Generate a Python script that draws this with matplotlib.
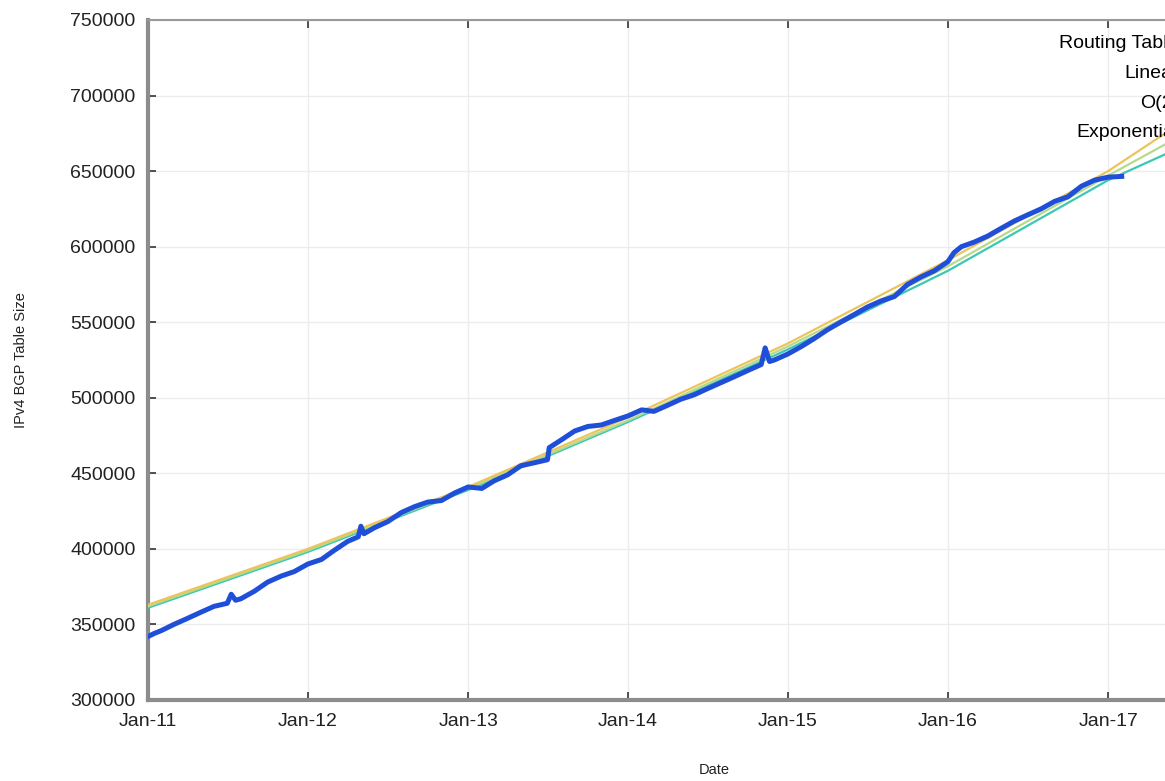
import pandas as pd
import numpy as np
import matplotlib
matplotlib.use('Agg')
import matplotlib.pyplot as plt
import matplotlib.dates as mdates
from matplotlib.ticker import MultipleLocator, ScalarFormatter, FixedLocator

plt.rcParams['font.family'] = ['Liberation Sans', 'DejaVu Sans']

# IPv4 BGP table samples (roughly monthly, plus the short spikes)
table_dates = [
    '2011-01-01', '2011-01-15', '2011-02-01', '2011-03-01', '2011-04-01', '2011-05-01',
    '2011-06-01', '2011-07-01', '2011-07-10', '2011-07-20', '2011-08-01', '2011-09-01',
    '2011-10-01', '2011-11-01', '2011-12-01', '2012-01-01', '2012-02-01', '2012-03-01',
    '2012-04-01', '2012-04-25', '2012-05-01', '2012-05-08', '2012-06-01', '2012-07-01',
    '2012-08-01', '2012-09-01', '2012-10-01', '2012-11-01', '2012-12-01', '2013-01-01',
    '2013-02-01', '2013-03-01', '2013-04-01', '2013-05-01', '2013-06-01', '2013-07-01',
    '2013-07-05', '2013-08-01', '2013-09-01', '2013-10-01', '2013-11-01', '2013-12-01',
    '2014-01-01', '2014-02-01', '2014-03-01', '2014-04-01', '2014-05-01', '2014-06-01',
    '2014-07-01', '2014-08-01', '2014-09-01', '2014-10-01', '2014-11-01', '2014-11-10',
    '2014-11-20', '2014-12-01', '2015-01-01', '2015-02-01', '2015-03-01', '2015-04-01',
    '2015-05-01', '2015-06-01', '2015-07-01', '2015-08-01', '2015-09-01', '2015-10-01',
    '2015-11-01', '2015-12-01', '2016-01-01', '2016-01-15', '2016-02-01', '2016-03-01',
    '2016-04-01', '2016-05-01', '2016-06-01', '2016-07-01', '2016-08-01', '2016-09-01',
    '2016-10-01', '2016-11-01', '2016-12-01', '2017-01-01', '2017-02-01',
]
table_size = [
    342000, 344000, 346000, 350000, 354000, 358000,
    362000, 364000, 370000, 366000, 367000, 372000,
    378000, 382000, 385000, 390000, 393000, 399000,
    405000, 408000, 415000, 410000, 414000, 418000,
    424000, 428000, 431000, 432000, 437000, 441000,
    440000, 445000, 449000, 455000, 457000, 459000,
    467000, 472000, 478000, 481000, 482000, 485000,
    488000, 492000, 491000, 495000, 499000, 502000,
    506000, 510000, 514000, 518000, 522000, 533000,
    524000, 525000, 529000, 534000, 539000, 545000,
    550000, 555000, 560000, 564000, 567000, 575000,
    580000, 584000, 590000, 596000, 600000, 603000,
    607000, 612000, 617000, 621000, 625000, 630000,
    633000, 640000, 644000, 646000, 646500,
]

# Fitted trend curves, sampled yearly
fit_dates = ['2011-01-01', '2012-01-01', '2013-01-01', '2014-01-01', '2015-01-01',
             '2016-01-01', '2017-01-01', '2018-01-01']
fit_linear = [361000, 398000, 439000, 484000, 532000, 584000, 644000, 692000]
fit_o2 = [362000, 399000, 440000, 485000, 534000, 587000, 647000, 705000]
fit_exp = [363000, 400000, 441000, 487000, 536000, 591000, 650000, 720000]

tick_years = ['2011-01-01', '2012-01-01', '2013-01-01', '2014-01-01',
              '2015-01-01', '2016-01-01', '2017-01-01']

W, H = 1165, 781
fig = plt.figure(figsize=(W / 100, H / 100), dpi=100)
ax = fig.add_axes([148 / W, 81 / H, 1120 / W, 680 / H])

td = pd.to_datetime(table_dates)
fd = pd.to_datetime(fit_dates)

ax.plot(td, table_size, color='#1f4fd8', lw=3.6, solid_joinstyle='round',
        label='Routing Table', zorder=4)
ax.plot(fd, fit_linear, color='#3cc8b4', lw=1.6, label='Linear', zorder=3)
ax.plot(fd, fit_o2, color='#b9d98a', lw=1.6, label='O(2)', zorder=3)
ax.plot(fd, fit_exp, color='#ecc45c', lw=1.6, label='Exponential', zorder=3)

ax.set_xlim(pd.Timestamp('2011-01-01'), pd.Timestamp('2018-01-01'))
ax.set_ylim(300000, 750000)
ax.xaxis.set_major_locator(FixedLocator(mdates.date2num(pd.to_datetime(tick_years))))
ax.xaxis.set_major_formatter(mdates.DateFormatter('%b-%y'))
ax.yaxis.set_major_locator(MultipleLocator(50000))
fmt = ScalarFormatter(useOffset=False)
fmt.set_scientific(False)
ax.yaxis.set_major_formatter(fmt)

ax.grid(True, color='#ececec', lw=1)
ax.set_axisbelow(True)
ax.tick_params(direction='in', top=True, right=False, length=6, width=1.2,
               labelsize=14, pad=9, colors='#333333', labelcolor='#222222')

for side in ['left', 'bottom']:
    ax.spines[side].set_linewidth(3)
    ax.spines[side].set_color('#8c8c8c')
ax.spines['top'].set_linewidth(1.5)
ax.spines['top'].set_color('#9a9a9a')
ax.spines['right'].set_visible(False)

ax.set_xlabel('Date', fontsize=10.5, color='#222222')
ax.set_ylabel('IPv4 BGP Table Size', fontsize=10.5, color='#222222')
ax.xaxis.set_label_coords(0.506, -0.092)
ax.yaxis.set_label_coords(-0.107, 0.5)

ax.legend(loc='upper right', bbox_to_anchor=(1241 / W, 1 - 27 / H),
          bbox_transform=fig.transFigure, frameon=False, markerfirst=False,
          fontsize=14, labelspacing=0.62, borderaxespad=0, handlelength=2)

fig.savefig('out.png', dpi=100)
